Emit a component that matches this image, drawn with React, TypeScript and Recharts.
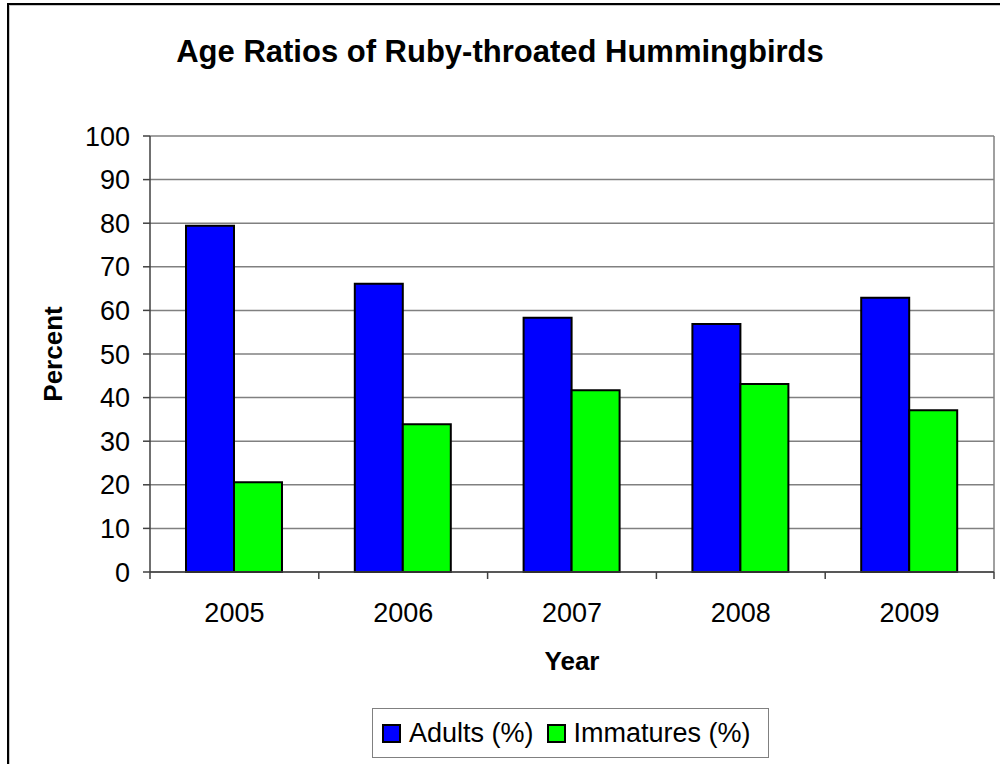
import React from "react";
import { Bar, BarChart, CartesianGrid, Legend, XAxis, YAxis } from "recharts";

const years = ["2005", "2006", "2007", "2008", "2009"];
const adults = [79.4, 66.1, 58.3, 56.9, 62.9];
const immatures = [20.6, 33.9, 41.7, 43.1, 37.1];
const yTicks = [0, 10, 20, 30, 40, 50, 60, 70, 80, 90, 100];

const data = years.map((year, i) => ({ year, adults: adults[i], immatures: immatures[i] }));

const FONT = '"Liberation Sans", Arial, sans-serif';

// category ticks: label at band centre, tick marks at band edges
function YearTick(props: any) {
  const { x, y, payload, index } = props;
  const half = payload.offset || 0;
  const last = index === years.length - 1;
  return (
    <g>
      <line x1={x - half} y1={y - 8} x2={x - half} y2={y - 1} stroke="#404040" strokeWidth={1.5} />
      {last && <line x1={x + half} y1={y - 8} x2={x + half} y2={y - 1} stroke="#404040" strokeWidth={1.5} />}
      <text x={x} y={y + 42} textAnchor="middle" fontSize={27} fill="#000" fontFamily={FONT}>
        {payload.value}
      </text>
    </g>
  );
}

function LegendBox(props: any) {
  const items = props.payload || [];
  return (
    <div
      style={{
        boxSizing: "border-box",
        width: 397,
        height: 50,
        border: "1.5px solid #808080",
        display: "flex",
        alignItems: "center",
        paddingLeft: 9,
        fontFamily: FONT,
        fontSize: 27,
        color: "#000",
        whiteSpace: "nowrap",
        overflow: "hidden",
      }}
    >
      {items.map((it: any, i: number) => (
        <div key={i} style={{ display: "flex", alignItems: "center", marginRight: 13, flexShrink: 0 }}>
          <span
            style={{
              display: "inline-block",
              boxSizing: "border-box",
              width: 19,
              height: 19,
              background: it.color,
              border: "2px solid #000",
              marginRight: 8,
            }}
          />
          <span style={{ lineHeight: "30px" }}>{it.value}</span>
        </div>
      ))}
    </div>
  );
}

export default function App() {
  return (
    <div style={{ position: "absolute", left: 0, top: 0, width: 1000, height: 764, overflow: "hidden", background: "#fff" }}>
      <div
        style={{
          position: "absolute",
          left: 7,
          top: 3,
          width: 1100,
          height: 900,
          border: "2px solid #000",
          boxShadow: "inset 1px 1px 0 #c8c8c8",
        }}
      />
      <div
        style={{
          position: "absolute",
          left: 0,
          top: 36,
          width: 1000,
          textAlign: "center",
          fontFamily: FONT,
          fontWeight: "bold",
          fontSize: 31,
          lineHeight: "31px",
          color: "#000",
        }}
      >
        Age Ratios of Ruby-throated Hummingbirds
      </div>
      <div style={{ position: "absolute", left: 0, top: 0 }}>
        <BarChart
          width={1000}
          height={764}
          data={data}
          margin={{ top: 136, right: 6, left: 0, bottom: 0 }}
          barSize={48}
          barGap={0}
        >
          <CartesianGrid
            stroke="#808080"
            strokeWidth={1.5}
            verticalCoordinatesGenerator={({ offset }: any) => [offset.left + offset.width]}
          />
          <XAxis
            dataKey="year"
            height={192}
            tickLine={false}
            axisLine={{ stroke: "#404040", strokeWidth: 1.5 }}
            tick={<YearTick />}
            interval={0}
            label={{
              value: "Year",
              position: "insideTop",
              offset: 80,
              style: { fontFamily: FONT, fontWeight: "bold", fontSize: 26, fill: "#000" },
            }}
          />
          <YAxis
            width={150}
            domain={[0, 100]}
            ticks={yTicks}
            tickSize={7}
            tickMargin={13}
            tickLine={{ stroke: "#404040", strokeWidth: 1.5 }}
            axisLine={{ stroke: "#404040", strokeWidth: 1.5 }}
            tick={{ fontFamily: FONT, fontSize: 27, fill: "#000" }}
            label={{
              value: "Percent",
              angle: -90,
              position: "insideLeft",
              offset: 53,
              style: { fontFamily: FONT, fontWeight: "bold", fontSize: 26, fill: "#000", textAnchor: "middle" },
            }}
          />
          <Legend
            verticalAlign="middle"
            layout="horizontal"
            content={<LegendBox />}
            wrapperStyle={{ left: 372, top: 708, width: 397, height: 50 }}
          />
          <Bar dataKey="adults" name="Adults (%)" fill="#0000ff" stroke="#000" strokeWidth={2} isAnimationActive={false} />
          <Bar dataKey="immatures" name="Immatures (%)" fill="#00ff00" stroke="#000" strokeWidth={2} isAnimationActive={false} />
        </BarChart>
      </div>
    </div>
  );
}
